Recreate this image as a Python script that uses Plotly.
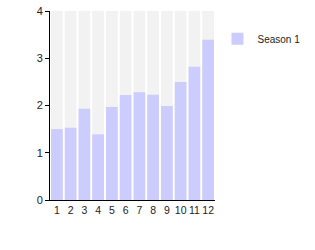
import plotly.graph_objects as go

months = [1, 2, 3, 4, 5, 6, 7, 8, 9, 10, 11, 12]
season1 = [1.50, 1.53, 1.93, 1.39, 1.97, 2.22, 2.28, 2.23, 1.99, 2.50, 2.82, 3.39]
bg_max = [4] * 12

fig = go.Figure()
fig.add_trace(go.Bar(x=months, y=bg_max, marker=dict(color="#f2f2f2", line=dict(width=0)),
                     showlegend=False, hoverinfo="skip"))
fig.add_trace(go.Bar(x=months, y=season1, name="Season 1",
                     marker=dict(color="#ccccff", line=dict(width=0))))
fig.update_layout(
    width=315, height=250,
    margin=dict(l=50, r=100, t=11, b=50, autoexpand=False),
    barmode="overlay", bargap=0.15,
    paper_bgcolor="white", plot_bgcolor="white",
    font=dict(family="Liberation Sans, Arial, sans-serif", size=11, color="#222"),
    legend=dict(x=1.015, y=0.93, xanchor="left", yanchor="top", font=dict(size=10),
                itemwidth=30),
    xaxis=dict(tickmode="array", tickvals=months, ticktext=[str(m) for m in months],
               tickangle=0, tickfont=dict(size=10.5), automargin=False,
               showgrid=False, showline=True, linecolor="#000", linewidth=1,
               ticks="", range=[0.5, 12.5], zeroline=False),
    yaxis=dict(range=[0, 4], tickvals=[0, 1, 2, 3, 4], showgrid=False, showline=True,
               linecolor="#000", linewidth=1, ticks="outside", ticklen=4,
               tickcolor="#000", zeroline=False, automargin=False),
)
fig.write_html("out.html")
